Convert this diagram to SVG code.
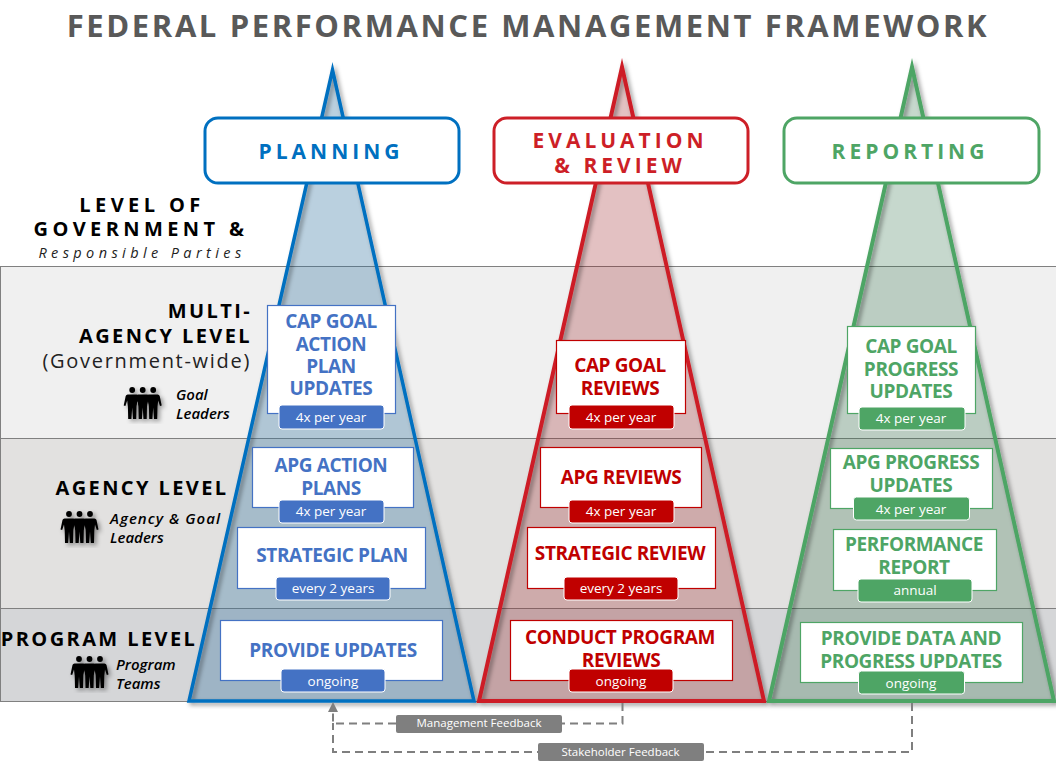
<svg xmlns="http://www.w3.org/2000/svg" xmlns:xlink="http://www.w3.org/1999/xlink" width="1056" height="768" viewBox="0 0 1056 768">
<style>
text{font-family:"Open Sans","Noto Sans","Liberation Sans",sans-serif;text-anchor:middle}
.t{font-size:31px;font-weight:700;fill:#595959;letter-spacing:2.6px}
.hd{font-size:21px;font-weight:700;letter-spacing:4px}
.lv{font-size:20px;font-weight:700;fill:#000;letter-spacing:2.4px}
.lt{font-size:20px;font-weight:700;fill:#000;letter-spacing:4.400px}
.who{font-size:15px;font-weight:600;font-style:italic;fill:#000;text-anchor:start}
.box{fill:#fff;stroke-width:1.2}
.bl{font-size:19px;font-weight:700;letter-spacing:-.4px}
.pill{stroke:#fff;stroke-width:1}
.pt{font-size:13.5px;fill:#fff}
.b .box{stroke:#4472c4}.b .pill{fill:#4472c4}.b .bl{fill:#4472c4}
.r .box{stroke:#c00000}.r .pill{fill:#c00000}.r .bl{fill:#c00000}
.g .box{stroke:#4ea565}.g .pill{fill:#4ea565}.g .bl{fill:#4ea565}
.conn{fill:none;stroke:#7f7f7f;stroke-width:2;stroke-dasharray:8 5}
.fb{fill:#7f7f7f}.fbt{font-size:11.5px;fill:#fff}
.tf{stroke:none}.ts{fill:none;stroke-linejoin:miter;stroke-miterlimit:10}
</style>
<defs>
<filter id="sh" x="-10%" y="-10%" width="125%" height="125%"><feDropShadow dx="2.5" dy="2.5" stdDeviation="2" flood-color="#000" flood-opacity=".4"/></filter>
<g id="man"><circle cx="0" cy="-13.500" r="2.900"/><path d="M-4.500-9H4.500Q6-9 6.500-7.500L8.500 2 6.800 2.500 5-3 4.300 3 4 15.500H.8L0 4-.8 15.500H-4L-4.300 3-5-3-6.800 2.500-8.500 2-6.500-7.500Q-6-9-4.500-9Z"/></g>
<g id="ppl" filter="url(#sh)"><use xlink:href="#man" x="-10.500"/><use xlink:href="#man" x="10.500"/><use xlink:href="#man"/></g>
<path id="tb" d="M332.500 70L474 701H189Z"/>
<path id="tr" d="M622 67L764 701H479Z"/>
<path id="tg" d="M912 67L1054 701H769Z"/>
</defs>
<rect width="1056" height="768" fill="#fff"/>
<text class="t" x="528" y="37">FEDERAL PERFORMANCE MANAGEMENT FRAMEWORK</text>
<g id="bands" stroke="#808080" stroke-width="1">
<rect x=".5" y="266.500" width="1060" height="172" fill="#f0f0f0"/>
<rect x=".5" y="438.500" width="1060" height="170" fill="#e2e1e0"/>
<rect x=".5" y="608.500" width="1060" height="93" fill="#d5d6d8"/>
</g>
<g id="triangles">
<g id="tri-planning"><use xlink:href="#tb" class="tf" fill="#2f6f9f" fill-opacity=".33"/><use xlink:href="#tb" class="ts" filter="url(#sh)" stroke="#0070c0" stroke-width="3.500"/></g>
<g id="tri-evaluation"><use xlink:href="#tr" class="tf" fill="#97191f" fill-opacity=".27"/><use xlink:href="#tr" class="ts" filter="url(#sh)" stroke="#cd1f27" stroke-width="4"/></g>
<g id="tri-reporting"><use xlink:href="#tg" class="tf" fill="#2c6e46" fill-opacity=".27"/><use xlink:href="#tg" class="ts" filter="url(#sh)" stroke="#4ea565" stroke-width="4"/></g>
</g>
<g id="connectors">
<path class="conn" d="M622.500 703V723.500H333V710"/>
<path class="conn" d="M912 703V752H333V723"/>
<path d="M333 702L338 712H328Z" fill="#7f7f7f"/>
</g>
<g id="feedback-management"><rect class="fb" x="396" y="715" width="166" height="18" rx="2"/><text class="fbt" x="479" y="727">Management Feedback</text></g>
<g id="feedback-stakeholder"><rect class="fb" x="538" y="743" width="166" height="18" rx="2"/><text class="fbt" x="620.500" y="756">Stakeholder Feedback</text></g>

<g id="head-planning"><rect x="205" y="118" width="254" height="65" rx="13" fill="#fff" stroke="#0070c0" stroke-width="3"/><text class="hd" x="331" y="159" fill="#0070c0">PLANNING</text></g>
<g id="head-evaluation"><rect x="494" y="118" width="254" height="65" rx="13" fill="#fff" stroke="#cd1f27" stroke-width="3"/><text class="hd" x="620" y="148" fill="#cd1f27">EVALUATION</text><text class="hd" x="620" y="173" fill="#cd1f27">&amp; REVIEW</text></g>
<g id="head-reporting"><rect x="784" y="118" width="255" height="65" rx="13" fill="#fff" stroke="#4ea565" stroke-width="3"/><text class="hd" x="910" y="159" fill="#4ea565">REPORTING</text></g>

<g id="legend-title">
<text class="lt" x="142" y="212">LEVEL OF</text>
<text class="lt" x="141" y="236">GOVERNMENT &amp;</text>
<text x="142" y="258" style="font-size:14.500px;font-style:italic;letter-spacing:4.400px;fill:#222">Responsible Parties</text>
</g>
<g id="level-multi">
<text class="lv" x="252" y="318" style="text-anchor:end">MULTI-</text>
<text class="lv" x="252" y="343" style="text-anchor:end">AGENCY LEVEL</text>
<text x="251" y="368" style="text-anchor:end;font-size:20px;letter-spacing:1.700px;fill:#222">(Government-wide)</text>
<use xlink:href="#ppl" x="142.700" y="403.500"/>
<text class="who" x="176" y="400">Goal</text><text class="who" x="176" y="419">Leaders</text>
</g>
<g id="level-agency">
<text class="lv" x="142" y="495">AGENCY LEVEL</text>
<use xlink:href="#ppl" x="79.500" y="527.500"/>
<text class="who" x="110" y="524" textLength="110">Agency &amp; Goal</text><text class="who" x="110" y="543">Leaders</text>
</g>
<g id="level-program">
<text class="lv" x="99" y="646">PROGRAM LEVEL</text>
<use xlink:href="#ppl" x="89.500" y="672.500"/>
<text class="who" x="116" y="670">Program</text><text class="who" x="116" y="689">Teams</text>
</g>

<g id="n-cap-plan" class="b"><rect class="box" x="267.500" y="305.500" width="128" height="108"/><text class="bl" x="331" y="328">CAP GOAL</text><text class="bl" x="331" y="351">ACTION</text><text class="bl" x="331" y="373">PLAN</text><text class="bl" x="331" y="395">UPDATES</text><rect class="pill" x="279" y="405" width="105" height="24" rx="3"/><text class="pt" x="331" y="422">4x per year</text></g>
<g id="n-apg-plan" class="b"><rect class="box" x="252.500" y="447.500" width="161" height="60"/><text class="bl" x="331" y="472">APG ACTION</text><text class="bl" x="331" y="495">PLANS</text><rect class="pill" x="279" y="500" width="105" height="23" rx="3"/><text class="pt" x="331" y="516">4x per year</text></g>
<g id="n-strategic" class="b"><rect class="box" x="237.500" y="527.500" width="188" height="61"/><text class="bl" x="332" y="562">STRATEGIC PLAN</text><rect class="pill" x="276" y="577" width="114" height="23" rx="3"/><text class="pt" x="333" y="593">every 2 years</text></g>
<g id="n-provide" class="b"><rect class="box" x="220.500" y="620.500" width="222" height="60"/><text class="bl" x="333" y="657">PROVIDE UPDATES</text><rect class="pill" x="281" y="669" width="104" height="23" rx="3"/><text class="pt" x="333" y="686">ongoing</text></g>

<g id="n-cap-rev" class="r"><rect class="box" x="556.500" y="340.500" width="129" height="73"/><text class="bl" x="620" y="372">CAP GOAL</text><text class="bl" x="620" y="395">REVIEWS</text><rect class="pill" x="569" y="405" width="105" height="24" rx="3"/><text class="pt" x="621" y="422">4x per year</text></g>
<g id="n-apg-rev" class="r"><rect class="box" x="540.500" y="447.500" width="161" height="60"/><text class="bl" x="621" y="484">APG REVIEWS</text><rect class="pill" x="569" y="500" width="105" height="23" rx="3"/><text class="pt" x="621" y="516">4x per year</text></g>
<g id="n-strat-rev" class="r"><rect class="box" x="527.500" y="527.500" width="188" height="61"/><text class="bl" x="620" y="560">STRATEGIC REVIEW</text><rect class="pill" x="564" y="577" width="114" height="23" rx="3"/><text class="pt" x="621" y="593">every 2 years</text></g>
<g id="n-program-rev" class="r"><rect class="box" x="510.500" y="620.500" width="222" height="60"/><text class="bl" x="620" y="644">CONDUCT PROGRAM</text><text class="bl" x="621" y="667">REVIEWS</text><rect class="pill" x="569" y="669" width="104" height="23" rx="3"/><text class="pt" x="621" y="686">ongoing</text></g>

<g id="n-cap-rep" class="g"><rect class="box" x="847.500" y="326.500" width="128" height="87"/><text class="bl" x="911" y="353">CAP GOAL</text><text class="bl" x="911" y="376">PROGRESS</text><text class="bl" x="911" y="398">UPDATES</text><rect class="pill" x="859" y="407" width="106" height="23" rx="3"/><text class="pt" x="911" y="423">4x per year</text></g>
<g id="n-apg-rep" class="g"><rect class="box" x="830.500" y="448.500" width="162" height="60"/><text class="bl" x="911" y="469">APG PROGRESS</text><text class="bl" x="911" y="492">UPDATES</text><rect class="pill" x="853.500" y="497" width="116" height="23" rx="3"/><text class="pt" x="911" y="514">4x per year</text></g>
<g id="n-perf" class="g"><rect class="box" x="833.500" y="529.500" width="163" height="61"/><text class="bl" x="914" y="551">PERFORMANCE</text><text class="bl" x="914" y="574">REPORT</text><rect class="pill" x="858" y="579" width="114" height="23" rx="3"/><text class="pt" x="915" y="595">annual</text></g>
<g id="n-data" class="g"><rect class="box" x="800.500" y="622.500" width="222" height="60"/><text class="bl" x="911" y="645">PROVIDE DATA AND</text><text class="bl" x="911" y="668">PROGRESS UPDATES</text><rect class="pill" x="858.500" y="671" width="106" height="23" rx="3"/><text class="pt" x="911" y="688">ongoing</text></g>
</svg>
